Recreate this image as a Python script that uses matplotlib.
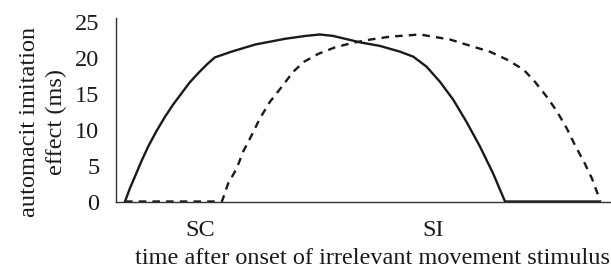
import matplotlib
matplotlib.use("Agg")
import matplotlib.pyplot as plt

# time position (category units) and effect values
sc_x = [0.0, 0.1, 0.21, 0.35, 0.49, 0.66, 0.84, 1.01, 1.19, 1.36, 1.54, 1.72, 1.89, 2.24, 2.74, 3.37, 3.8, 4.1, 4.38, 4.95, 5.37, 5.79, 6.07, 6.35, 6.63, 6.91, 7.19, 7.47, 7.75, 8.0, 9.0, 10.0]
sc_y = [0.0, 1.8, 3.5, 5.7, 7.7, 9.8, 11.8, 13.5, 15.1, 16.6, 17.9, 19.1, 20.1, 20.9, 21.9, 22.7, 23.1, 23.3, 23.1, 22.2, 21.7, 20.9, 20.2, 18.8, 16.7, 14.2, 11.1, 7.7, 3.9, 0.0, 0.0, 0.0]

si_x = [0.0, 1.0, 2.04, 2.17, 2.35, 2.49, 2.67, 2.84, 3.05, 3.3, 3.54, 3.77, 4.07, 4.42, 4.77, 5.17, 5.58, 6.21, 6.84, 7.33, 7.68, 8.04, 8.39, 8.63, 8.88, 9.09, 9.3, 9.47, 9.68, 9.83, 9.96, 10.0]
si_y = [0.0, 0.0, 0.0, 2.5, 4.6, 7.0, 9.3, 11.6, 13.9, 16.0, 18.1, 19.5, 20.6, 21.5, 22.1, 22.6, 23.0, 23.3, 22.6, 21.6, 20.9, 19.8, 18.4, 16.7, 14.6, 12.6, 10.2, 7.9, 5.3, 3.2, 0.9, 0.2]

x_tick_pos = [1.58, 6.48]
x_tick_labels = ["SC", "SI"]
y_ticks = [0, 5, 10, 15, 20, 25]

plt.rcParams['font.family'] = ['Liberation Serif', 'DejaVu Serif']
FS = 17.5

fig = plt.figure(figsize=(6.11, 2.71), dpi=100)
ax = fig.add_axes([116/611, 69.5/271, 494/611, 183.5/271])

ax.plot(sc_x, sc_y, color='#1a1a1a', lw=1.7, solid_joinstyle='round')
ax.plot(si_x, si_y, color='#1a1a1a', lw=1.7, linestyle=(0, (3.2, 2.6)))

ax.set_xlim(-0.19, 10.21)
ax.set_ylim(0, 25.6)
ax.set_yticks(y_ticks)
ax.set_xticks(x_tick_pos)
ax.set_xticklabels(x_tick_labels)
ax.tick_params(axis='both', length=0, labelsize=FS, colors='#1a1a1a')
ax.tick_params(axis='y', pad=12)
ax.tick_params(axis='x', pad=13)

for s in ['top', 'right']:
    ax.spines[s].set_visible(False)
for s in ['left', 'bottom']:
    ax.spines[s].set_color('#333333')
    ax.spines[s].set_linewidth(1.0)

yl = ax.set_ylabel("automacit imitation\neffect (ms)", fontsize=FS, linespacing=1.35, color='#1a1a1a')
yl.set_va('center')
ax.yaxis.set_label_coords(-0.148, 0.433)
xl = ax.set_xlabel("time after onset of irrelevant movement stimulus", fontsize=FS, color='#1a1a1a')
xl.set_va('center')
ax.xaxis.set_label_coords(0.52, -0.308)

fig.savefig("out.png", dpi=100)
